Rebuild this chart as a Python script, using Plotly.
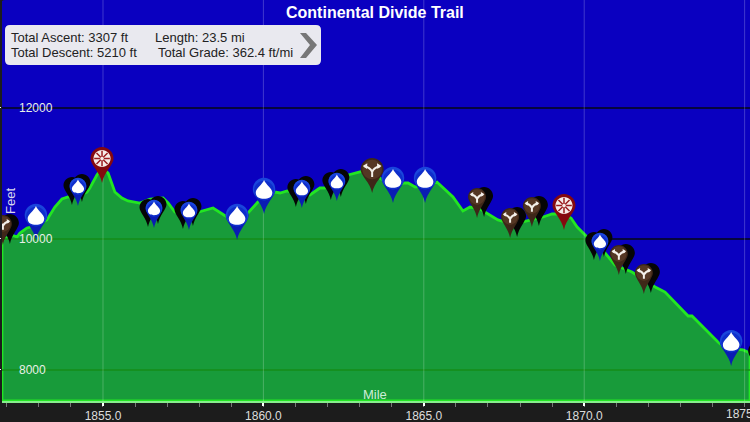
import plotly.graph_objects as go

# elevation profile
trail_miles = [1851.85, 1852.16, 1852.32, 1852.41, 1852.63, 1852.88, 1853.25, 1853.50, 1853.72, 1853.91,
               1854.22, 1854.50, 1854.59, 1854.81, 1854.97, 1855.16, 1855.37, 1855.59, 1855.78, 1856.00,
               1856.15, 1856.47, 1856.87, 1857.03, 1857.24, 1857.65, 1858.02, 1858.43, 1858.77, 1859.15,
               1859.52, 1859.83, 1860.36, 1860.52, 1860.74, 1861.08, 1861.45, 1861.76, 1861.92, 1862.29,
               1862.64, 1863.01, 1863.32, 1863.63, 1864.01, 1864.41, 1864.51, 1864.73, 1865.07, 1865.41,
               1865.66, 1865.91, 1866.22, 1866.44, 1866.75, 1867.06, 1867.31, 1867.44, 1868.06, 1868.72,
               1869.00, 1869.31, 1869.59, 1869.78, 1870.03, 1870.65, 1870.96, 1871.49, 1871.90, 1872.21,
               1872.52, 1872.83, 1873.24, 1873.36, 1873.70, 1874.17, 1874.39, 1874.95, 1875.17]
trail_feet = [9984, 10061, 10030, 10091, 10168, 10198, 10290, 10488, 10610, 10641,
              10656, 10717, 10778, 10977, 11084, 11007, 10717, 10626, 10580, 10565,
              10549, 10610, 10626, 10549, 10412, 10366, 10412, 10473, 10366, 10259,
              10397, 10565, 10717, 10702, 10733, 10687, 10672, 10778, 10778, 10885,
              10977, 11023, 11053, 10931, 10809, 10855, 10855, 10794, 10809, 10870,
              10763, 10641, 10427, 10488, 10458, 10366, 10290, 10274, 10259, 10336,
              10381, 10381, 10320, 10183, 10061, 9786, 9603, 9496, 9358, 9267,
              9190, 9038, 8824, 8824, 8656, 8427, 8335, 8305, 8259]

# waypoint pins, position of the pin tip
water_big_miles = [1852.91, 1859.18, 1860.02, 1864.04, 1865.04, 1874.58]
water_big_feet = [9984, 9984, 10381, 10549, 10549, 8060]
water_small_miles = [1854.22, 1856.59, 1857.68, 1861.20, 1862.29, 1870.49]
water_small_feet = [10504, 10168, 10137, 10473, 10580, 9664]
fork_big_miles = [1863.39]
fork_big_feet = [10702]
fork_small_miles = [1851.88, 1866.66, 1867.69, 1868.37, 1871.08, 1871.86]
fork_small_feet = [9908, 10320, 10015, 10183, 9450, 9160]
camp_miles = [1854.97, 1869.37]
camp_feet = [10855, 10137]
edge_pin_miles = [1875.39]
edge_pin_feet = [7969]

y_ticks = [8000, 10000, 12000]
y_tick_labels = ["8000", "10000", "12000"]
x_grid = [1855, 1860, 1865, 1870, 1875]
x_ticks = [1855, 1860, 1865, 1870]
x_edge_tick = 1875
grid_on_fill_10000 = [1851.85, 1870.2]
grid_on_fill_8000 = [1851.85, 1875.17]

Y_RANGE = [7526, 13649]
X_RANGE = [1851.852, 1875.168]
K = 0.55


def head_circle(r, cy):
    return (f"M {r},{cy} C {r},{cy + K * r} {K * r},{cy + r} 0,{cy + r} "
            f"C {-K * r},{cy + r} {-r},{cy + K * r} {-r},{cy} "
            f"C {-r},{cy - K * r} {-K * r},{cy - r} 0,{cy - r} "
            f"C {K * r},{cy - r} {r},{cy - K * r} {r},{cy} Z")


def pin_path(w, h):
    r = w / 2
    cy = h - r
    return (f"M 0,0 C {0.08 * w},{0.3 * h} {r},{cy - 0.55 * r} {r},{cy} "
            f"C {r},{cy + K * r} {K * r},{h} 0,{h} "
            f"C {-K * r},{h} {-r},{cy + K * r} {-r},{cy} "
            f"C {-r},{cy - 0.55 * r} {-0.08 * w},{0.3 * h} 0,0 Z")


def drop_path(r, cy):
    s = r * 0.72
    return (f"M 0,{cy + 1.15 * s} C {0.2 * s},{cy + 0.6 * s} {s},{cy + 0.1 * s} {s},{cy - 0.35 * s} "
            f"C {s},{cy - 0.95 * s} {0.5 * s},{cy - 1.1 * s} 0,{cy - 1.1 * s} "
            f"C {-0.5 * s},{cy - 1.1 * s} {-s},{cy - 0.95 * s} {-s},{cy - 0.35 * s} "
            f"C {-s},{cy + 0.1 * s} {-0.2 * s},{cy + 0.6 * s} 0,{cy + 1.15 * s} Z")


def shape_at(mile, feet, path, fill=None, line=None, width=0):
    s = dict(type="path", xref="x", yref="y", xsizemode="pixel", ysizemode="pixel",
             xanchor=mile, yanchor=feet, path=path, layer="above", line=dict(width=width))
    if fill:
        s["fillcolor"] = fill
    if line:
        s["line"]["color"] = line
    return s


def shadow(mile, feet, w, h, dx, dy):
    s = shape_at(mile, feet, pin_path(w, h), fill="#050505")
    # shift the pin by moving the anchor, 32.08 px per mile and 15.27 ft per px
    s["xanchor"] = mile + dx / 32.08
    s["yanchor"] = feet + dy * 15.27
    return s


def water_pin(mile, feet, w, h):
    r = w / 2
    cy = h - r
    return [shape_at(mile, feet, pin_path(w, h), fill="#0a1cb4"),
            shape_at(mile, feet, head_circle(r * 0.97, cy + 0.5), fill="#1a45dc"),
            shape_at(mile, feet, head_circle(r * 0.86, cy - 1), fill="#0f2ecb"),
            shape_at(mile, feet, drop_path(r, cy), fill="#ffffff")]


def fork_pin(mile, feet, w, h):
    r = w / 2
    cy = h - r
    a = r * 0.68
    stem = (f"M 0,{cy - 0.65 * r} L 0,{cy - 0.05 * r} M {-a},{cy + 0.28 * r} Q {-0.2 * r},{cy + 0.2 * r} 0,{cy - 0.2 * r} "
            f"Q {0.2 * r},{cy + 0.2 * r} {a},{cy + 0.28 * r}")
    heads = (f"M {-r * 0.82},{cy + 0.3 * r} L {-r * 0.42},{cy + 0.55 * r} L {-r * 0.45},{cy + 0.05 * r} Z "
             f"M {r * 0.82},{cy + 0.3 * r} L {r * 0.42},{cy + 0.55 * r} L {r * 0.45},{cy + 0.05 * r} Z")
    return [shape_at(mile, feet, pin_path(w, h), fill="#3e2718"),
            shape_at(mile, feet, head_circle(r * 0.85, cy), fill="#553724"),
            shape_at(mile, feet, stem, line="#f4f0ea", width=2),
            shape_at(mile, feet, heads, fill="#f4f0ea")]


def camp_pin(mile, feet, w, h):
    r = w / 2
    cy = h - r
    # spokes of the wheel
    d = r * 0.68
    q = d * 0.707
    spokes = (f"M {-d},{cy} L {d},{cy} M 0,{cy - d} L 0,{cy + d} "
              f"M {-q},{cy - q} L {q},{cy + q} M {-q},{cy + q} L {q},{cy - q}")
    return [shape_at(mile, feet, pin_path(w, h), fill="#84090f"),
            shape_at(mile, feet, head_circle(r * 0.74, cy), fill="#f6ece8"),
            shape_at(mile, feet, spokes, line="#9a1c20", width=1.5),
            shape_at(mile, feet, head_circle(r * 0.16, cy), fill="#f6ece8")]


def px_shape(path, fill=None, line=None, width=0):
    # anchored to the top left of the plot area, y is negative going down
    s = dict(type="path", xref="paper", yref="paper", xsizemode="pixel", ysizemode="pixel",
             xanchor=0, yanchor=1, path=path, layer="above", line=dict(width=width))
    if fill:
        s["fillcolor"] = fill
    if line:
        s["line"]["color"] = line
    return s


def px_text(px, py, text, size=13, color="#222222", anchor="left", angle=0, bold=False):
    return dict(xref="paper", yref="paper", x=(px - 2) / 748, y=1 - py / 401, text=f"<b>{text}</b>" if bold else text,
                showarrow=False, xanchor=anchor, yanchor="middle", textangle=angle,
                font=dict(family="Liberation Sans", size=size, color=color))


fig = go.Figure()

fig.add_trace(go.Scatter(x=trail_miles + [trail_miles[-1], trail_miles[0], trail_miles[0]],
                         y=trail_feet + [Y_RANGE[0], Y_RANGE[0], trail_feet[0]],
                         mode="lines", fill="toself", fillcolor="#189b3a",
                         line=dict(color="#22e622", width=2.8), hoverinfo="skip"))
for xs, tick in [(grid_on_fill_10000, y_ticks[1]), (grid_on_fill_8000, y_ticks[0])]:
    fig.add_trace(go.Scatter(x=xs, y=[tick] * len(xs), mode="lines",
                             line=dict(color="#158c18", width=1.6), hoverinfo="skip"))

shapes = []
for m in x_grid:
    shapes.append(dict(type="line", xref="x", yref="paper", x0=m, x1=m, y0=0, y1=1, layer="above",
                       line=dict(color="rgba(255,255,255,0.22)", width=1)))

# dark pins along the edges first, then everything else left to right
for m, f in zip(edge_pin_miles, edge_pin_feet):
    shapes.append(shape_at(m, f, pin_path(18, 30), fill="#050505"))
for m, f in zip(fork_small_miles, fork_small_feet):
    shapes.append(shadow(m, f, 18, 30, 7, 1))
    shapes += fork_pin(m, f, 18, 30)
for m, f in zip(water_small_miles, water_small_feet):
    shapes.append(shadow(m, f, 17, 28, -6, 1))
    shapes.append(shadow(m, f, 17, 28, 4, 4))
    shapes += water_pin(m, f, 17, 28)
for m, f in zip(water_big_miles, water_big_feet):
    shapes += water_pin(m, f, 23, 36)
for m, f in zip(fork_big_miles, fork_big_feet):
    shapes += fork_pin(m, f, 23, 35)
for m, f in zip(camp_miles, camp_feet):
    shapes += camp_pin(m, f, 23, 36)

# info box and chevron, in pixels from the top left of the plot
bx0, bx1, by0, by1, rad = 3, 319, -25, -65, 5
shapes.append(px_shape(f"M {bx0 + rad},{by0} L {bx1 - rad},{by0} Q {bx1},{by0} {bx1},{by0 - rad} "
                       f"L {bx1},{by1 + rad} Q {bx1},{by1} {bx1 - rad},{by1} L {bx0 + rad},{by1} "
                       f"Q {bx0},{by1} {bx0},{by1 + rad} L {bx0},{by0 - rad} Q {bx0},{by0} {bx0 + rad},{by0} Z",
                       fill="#e9e9ef"))
shapes.append(px_shape("M 298,-33 L 304,-33 L 315,-45 L 304,-58 L 298,-58 L 308,-45 Z", fill="#777777"))
# rounded corner of the phone screen
shapes.append(px_shape("M -2,0 L 3,0 Q -1,0 -2,-5 Z", fill="#1c1c1c"))

annotations = [px_text(375, 12, "Continental Divide Trail", size=16, color="#ffffff", anchor="center", bold=True),
               px_text(9, 37, "Total Ascent: 3307 ft"),
               px_text(153, 37, "Length: 23.5 mi"),
               px_text(9, 53, "Total Descent: 5210 ft"),
               px_text(156, 53, "Total Grade: 362.4 ft/mi"),
               px_text(10, 201, "Feet", color="#d8d8ee", anchor="center", angle=-90),
               px_text(375, 394, "Mile", color="#cdeed6", anchor="center")]
for tick, label in zip(y_ticks, y_tick_labels):
    annotations.append(dict(xref="paper", yref="y", x=15 / 748, y=tick, text=label, showarrow=False,
                            xanchor="left", yanchor="middle",
                            font=dict(family="Liberation Sans", size=12, color="#e8f0e8")))
# the last tick label runs off the right edge, kept apart so it does not push the margin
annotations.append(dict(xref="x", yref="paper", x=x_edge_tick, y=0, yshift=-13, text=f"{x_edge_tick:.1f}",
                        showarrow=False, xanchor="center", yanchor="middle",
                        font=dict(family="Liberation Sans", size=12, color="#dcdcdc")))

fig.update_layout(
    width=750, height=422, autosize=False,
    margin=dict(l=2, r=0, t=0, b=21, pad=0),
    paper_bgcolor="#1c1c1c", plot_bgcolor="#0a00c0",
    showlegend=False, shapes=shapes, annotations=annotations,
    xaxis=dict(range=X_RANGE, tickmode="array", tickvals=x_ticks, tickformat=".1f", automargin=False,
               ticks="outside", ticklen=3, tickcolor="#ffffff", tickwidth=2,
               minor=dict(tick0=1855, dtick=1, ticks="outside", ticklen=4, tickcolor="#777777", tickwidth=1),
               showgrid=False, zeroline=False, showline=True, linecolor="#86ee8c", linewidth=2,
               tickfont=dict(family="Liberation Sans", size=12, color="#dcdcdc")),
    yaxis=dict(range=Y_RANGE, tickmode="array", tickvals=y_ticks, showticklabels=False, automargin=False,
               ticks="outside", ticklen=2, tickcolor="#ffffff", tickwidth=1,
               showgrid=True, gridcolor="#06063f", gridwidth=2, zeroline=False, showline=False),
)

fig.write_html("out.html", config={"displayModeBar": False},
               post_script="document.body.style.margin='0';document.body.style.overflow='hidden';")
